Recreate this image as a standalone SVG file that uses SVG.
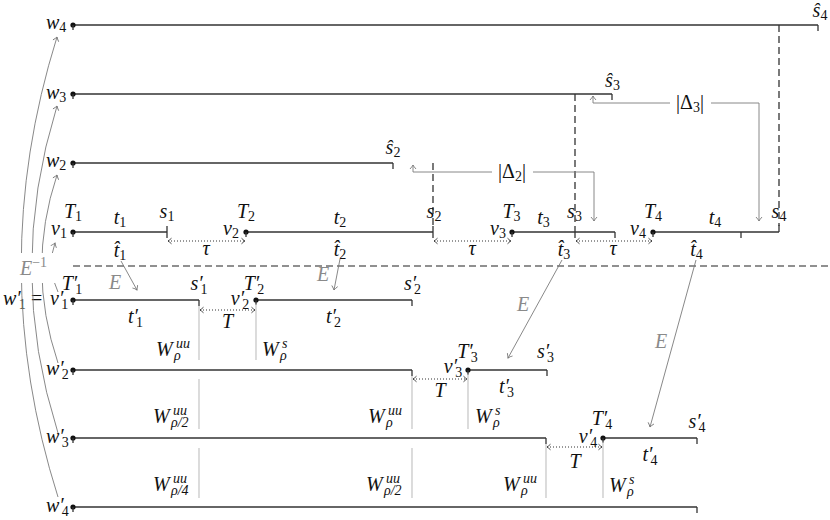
<svg xmlns="http://www.w3.org/2000/svg" width="830" height="520" viewBox="0 0 830 520">
<defs>
<style>
text{font-family:"Liberation Serif","DejaVu Serif",serif;font-style:italic;font-size:20px;fill:#111}
.n{font-style:normal}
.sb{font-size:14px;font-style:normal}
.si{font-size:14px;font-style:italic}
.g{fill:#8a8a8a}
.ln{stroke:#333;stroke-width:1.3;fill:none}
.ds{stroke:#222;stroke-width:1.2;stroke-dasharray:7 4;fill:none}
.ga{stroke:#7a7a7a;stroke-width:0.9;fill:none}
.wl{stroke:#c4c4c4;stroke-width:1.2;fill:none}
.dt{stroke:#333;stroke-width:1;stroke-dasharray:1 2;fill:none}
.pt{fill:#111}
</style>
<marker id="ag" viewBox="-5 -4 6 8" refX="0" refY="0" markerWidth="6" markerHeight="8" markerUnits="userSpaceOnUse" orient="auto-start-reverse">
<path d="M-4,-3 Q-1.5,-0.8 0,0 Q-1.5,0.8 -4,3" fill="none" stroke="#7a7a7a" stroke-width="0.9"/>
</marker>
<marker id="ad" viewBox="-5 -4 6 8" refX="0" refY="0" markerWidth="6" markerHeight="8" markerUnits="userSpaceOnUse" orient="auto-start-reverse">
<path d="M-3.5,-2.8 Q-1.3,-0.7 0,0 Q-1.3,0.7 -3.5,2.8" fill="none" stroke="#333" stroke-width="0.9"/>
</marker>
</defs>
<rect width="830" height="520" fill="#fff"/>

<g id="guides">
<line class="ds" x1="73" y1="266" x2="830" y2="266"/>
<line class="ds" x1="433" y1="163" x2="433" y2="226"/>
<line class="ds" x1="575" y1="94" x2="575" y2="232"/>
<line class="ds" x1="779" y1="25" x2="779" y2="226"/>
</g>

<g id="w4">
<line class="ln" x1="73" y1="25" x2="818" y2="25"/>
<line class="ln" x1="818" y1="25" x2="818" y2="31"/>
<circle class="pt" cx="73" cy="25" r="2.6"/><line class="ln" x1="73" y1="25" x2="73" y2="30"/>
<text x="46" y="29">w<tspan class="sb" dy="3">4</tspan></text>
<text x="820" y="17" text-anchor="middle">ŝ<tspan class="sb" dy="3">4</tspan></text>
</g>
<g id="w3">
<line class="ln" x1="73" y1="94" x2="612" y2="94"/>
<line class="ln" x1="612" y1="94" x2="612" y2="100"/>
<circle class="pt" cx="73" cy="94" r="2.6"/><line class="ln" x1="73" y1="94" x2="73" y2="99"/>
<text x="46" y="99">w<tspan class="sb" dy="3">3</tspan></text>
<text x="612.5" y="87" text-anchor="middle">ŝ<tspan class="sb" dy="3">3</tspan></text>
</g>
<g id="w2">
<line class="ln" x1="73" y1="163" x2="393" y2="163"/>
<line class="ln" x1="393" y1="163" x2="393" y2="169"/>
<circle class="pt" cx="73" cy="163" r="2.6"/><line class="ln" x1="73" y1="163" x2="73" y2="168"/>
<text x="46" y="167">w<tspan class="sb" dy="3">2</tspan></text>
<text x="393" y="154" text-anchor="middle">ŝ<tspan class="sb" dy="3">2</tspan></text>
</g>

<g id="v1">
<line class="ln" x1="73" y1="232" x2="167" y2="232"/>
<line class="ln" x1="167" y1="226" x2="167" y2="238"/>
<circle class="pt" cx="73" cy="232" r="2.6"/><line class="ln" x1="73" y1="232" x2="73" y2="237"/>
<text x="59" y="235" text-anchor="middle">v<tspan class="sb" dy="3">1</tspan></text>
<text x="73" y="218" text-anchor="middle">T<tspan class="sb" dy="3">1</tspan></text>
<text x="120" y="224" text-anchor="middle">t<tspan class="sb" dy="3">1</tspan></text>
<text x="167" y="218" text-anchor="middle">s<tspan class="sb" dy="3">1</tspan></text>
<text x="120" y="257" text-anchor="middle">t&#x302;<tspan class="sb" dy="3">1</tspan></text>
</g>
<g id="v2">
<line class="ln" x1="246" y1="232" x2="433" y2="232"/>
<line class="ln" x1="433" y1="226" x2="433" y2="238"/>
<circle class="pt" cx="246" cy="232" r="2.6"/><line class="ln" x1="246" y1="232" x2="246" y2="237"/>
<text x="231" y="235" text-anchor="middle">v<tspan class="sb" dy="3">2</tspan></text>
<text x="246" y="218" text-anchor="middle">T<tspan class="sb" dy="3">2</tspan></text>
<text x="340" y="224" text-anchor="middle">t<tspan class="sb" dy="3">2</tspan></text>
<text x="434" y="218" text-anchor="middle">s<tspan class="sb" dy="3">2</tspan></text>
<text x="340" y="256" text-anchor="middle">t&#x302;<tspan class="sb" dy="3">2</tspan></text>
</g>
<g id="v3">
<line class="ln" x1="512" y1="232" x2="615" y2="232"/>
<line class="ln" x1="575" y1="232" x2="575" y2="238"/>
<line class="ln" x1="615" y1="232" x2="615" y2="238"/>
<circle class="pt" cx="512" cy="232" r="2.6"/><line class="ln" x1="512" y1="232" x2="512" y2="237"/>
<text x="498" y="235" text-anchor="middle">v<tspan class="sb" dy="3">3</tspan></text>
<text x="511.5" y="218" text-anchor="middle">T<tspan class="sb" dy="3">3</tspan></text>
<text x="543.5" y="224" text-anchor="middle">t<tspan class="sb" dy="3">3</tspan></text>
<text x="574.5" y="218" text-anchor="middle">s<tspan class="sb" dy="3">3</tspan></text>
<text x="564" y="256" text-anchor="middle">t&#x302;<tspan class="sb" dy="3">3</tspan></text>
</g>
<g id="v4">
<line class="ln" x1="653" y1="232" x2="779" y2="232"/>
<line class="ln" x1="741" y1="232" x2="741" y2="238"/>
<line class="ln" x1="779" y1="225" x2="779" y2="232"/>
<circle class="pt" cx="653" cy="232" r="2.6"/><line class="ln" x1="653" y1="232" x2="653" y2="237"/>
<text x="638" y="235" text-anchor="middle">v<tspan class="sb" dy="3">4</tspan></text>
<text x="653" y="218" text-anchor="middle">T<tspan class="sb" dy="3">4</tspan></text>
<text x="715" y="224" text-anchor="middle">t<tspan class="sb" dy="3">4</tspan></text>
<text x="779" y="218" text-anchor="middle">s<tspan class="sb" dy="3">4</tspan></text>
<text x="696.5" y="256" text-anchor="middle">t&#x302;<tspan class="sb" dy="3">4</tspan></text>
</g>

<g id="v1p">
<line class="ln" x1="73" y1="300" x2="199" y2="300"/>
<line class="ln" x1="199" y1="300" x2="199" y2="306"/>
<circle class="pt" cx="73" cy="300" r="2.6"/><line class="ln" x1="73" y1="300" x2="73" y2="305"/>
<text x="3" y="305">w′<tspan class="sb" dx="-2" dy="4">1</tspan><tspan class="n" x="31" y="305">=</tspan><tspan x="50" y="305">v′</tspan><tspan class="sb" dx="-2" dy="4">1</tspan></text>
<text x="72" y="290" text-anchor="middle">T′<tspan class="sb" dx="-2" dy="4">1</tspan></text>
<text x="135.5" y="323" text-anchor="middle">t′<tspan class="sb" dx="-2" dy="4">1</tspan></text>
<text x="199" y="290" text-anchor="middle">s′<tspan class="sb" dx="-2" dy="4">1</tspan></text>
</g>
<g id="v2p">
<line class="ln" x1="256" y1="300" x2="412" y2="300"/>
<line class="ln" x1="412" y1="300" x2="412" y2="306"/>
<circle class="pt" cx="256" cy="300" r="2.6"/><line class="ln" x1="256" y1="300" x2="256" y2="305"/>
<text x="240" y="305" text-anchor="middle">v′<tspan class="sb" dx="-2" dy="4">2</tspan></text>
<text x="254" y="290" text-anchor="middle">T′<tspan class="sb" dx="-2" dy="4">2</tspan></text>
<text x="333.5" y="323" text-anchor="middle">t′<tspan class="sb" dx="-2" dy="4">2</tspan></text>
<text x="412.5" y="290" text-anchor="middle">s′<tspan class="sb" dx="-2" dy="4">2</tspan></text>
</g>
<g id="w2p">
<line class="ln" x1="73" y1="370" x2="412" y2="370"/>
<line class="ln" x1="412" y1="370" x2="412" y2="376"/>
<circle class="pt" cx="73" cy="370" r="2.6"/><line class="ln" x1="73" y1="370" x2="73" y2="375"/>
<text x="46" y="375">w′<tspan class="sb" dx="-2" dy="4">2</tspan></text>
</g>
<g id="v3p">
<line class="ln" x1="468" y1="370" x2="547" y2="370"/>
<line class="ln" x1="547" y1="370" x2="547" y2="376"/>
<circle class="pt" cx="468" cy="370" r="2.6"/><line class="ln" x1="468" y1="370" x2="468" y2="375"/>
<text x="453" y="373" text-anchor="middle">v′<tspan class="sb" dx="-2" dy="4">3</tspan></text>
<text x="467.5" y="358" text-anchor="middle">T′<tspan class="sb" dx="-2" dy="4">3</tspan></text>
<text x="506.5" y="393" text-anchor="middle">t′<tspan class="sb" dx="-2" dy="4">3</tspan></text>
<text x="545.5" y="358" text-anchor="middle">s′<tspan class="sb" dx="-2" dy="4">3</tspan></text>
</g>
<g id="w3p">
<line class="ln" x1="73" y1="438" x2="546" y2="438"/>
<line class="ln" x1="546" y1="438" x2="546" y2="444"/>
<circle class="pt" cx="73" cy="438" r="2.6"/><line class="ln" x1="73" y1="438" x2="73" y2="443"/>
<text x="46" y="443">w′<tspan class="sb" dx="-2" dy="4">3</tspan></text>
</g>
<g id="v4p">
<line class="ln" x1="603" y1="438" x2="697" y2="438"/>
<line class="ln" x1="697" y1="438" x2="697" y2="444"/>
<circle class="pt" cx="603" cy="438" r="2.6"/><line class="ln" x1="603" y1="438" x2="603" y2="443"/>
<text x="588" y="443" text-anchor="middle">v′<tspan class="sb" dx="-2" dy="4">4</tspan></text>
<text x="602" y="425" text-anchor="middle">T′<tspan class="sb" dx="-2" dy="4">4</tspan></text>
<text x="650" y="461" text-anchor="middle">t′<tspan class="sb" dx="-2" dy="4">4</tspan></text>
<text x="697" y="428" text-anchor="middle">s′<tspan class="sb" dx="-2" dy="4">4</tspan></text>
</g>
<g id="w4p">
<line class="ln" x1="73" y1="507" x2="697" y2="507"/>
<line class="ln" x1="697" y1="507" x2="697" y2="513"/>
<circle class="pt" cx="73" cy="507" r="2.6"/><line class="ln" x1="73" y1="507" x2="73" y2="512"/>
<text x="46" y="512">w′<tspan class="sb" dx="-2" dy="4">4</tspan></text>
</g>

<g id="manifolds">
<line class="wl" x1="199" y1="306" x2="199" y2="360"/>
<line class="wl" x1="256" y1="304" x2="256" y2="360"/>
<line class="wl" x1="199" y1="379" x2="199" y2="429"/>
<line class="wl" x1="412" y1="376" x2="412" y2="429"/>
<line class="wl" x1="468" y1="374" x2="468" y2="429"/>
<line class="wl" x1="199" y1="448" x2="199" y2="498"/>
<line class="wl" x1="412" y1="448" x2="412" y2="498"/>
<line class="wl" x1="546" y1="444" x2="546" y2="498"/>
<line class="wl" x1="603" y1="442" x2="603" y2="498"/>
<text x="156" y="356">W<tspan class="si" x="176" y="348">uu</tspan><tspan class="si" x="174" y="360">ρ</tspan></text>
<text x="262" y="356">W<tspan class="si" x="282" y="348">s</tspan><tspan class="si" x="280" y="360">ρ</tspan></text>
<text x="153" y="423">W<tspan class="si" x="173" y="415">uu</tspan><tspan class="si" x="171" y="427">ρ/2</tspan></text>
<text x="368" y="423">W<tspan class="si" x="388" y="415">uu</tspan><tspan class="si" x="386" y="427">ρ</tspan></text>
<text x="475" y="423">W<tspan class="si" x="495" y="415">s</tspan><tspan class="si" x="493" y="427">ρ</tspan></text>
<text x="153" y="491">W<tspan class="si" x="173" y="483">uu</tspan><tspan class="si" x="171" y="495">ρ/4</tspan></text>
<text x="366" y="491">W<tspan class="si" x="386" y="483">uu</tspan><tspan class="si" x="384" y="495">ρ/2</tspan></text>
<text x="503" y="491">W<tspan class="si" x="523" y="483">uu</tspan><tspan class="si" x="521" y="495">ρ</tspan></text>
<text x="609" y="492">W<tspan class="si" x="629" y="484">s</tspan><tspan class="si" x="627" y="496">ρ</tspan></text>
</g>

<g id="connectors">
<path class="dt" d="M168,241 H245" marker-start="url(#ad)" marker-end="url(#ad)"/>
<path class="dt" d="M434,241 H511" marker-start="url(#ad)" marker-end="url(#ad)"/>
<path class="dt" d="M576,241 H652" marker-start="url(#ad)" marker-end="url(#ad)"/>
<path class="dt" d="M200,310 H255" marker-start="url(#ad)" marker-end="url(#ad)"/>
<path class="dt" d="M413,379 H467" marker-start="url(#ad)" marker-end="url(#ad)"/>
<path class="dt" d="M547,447 H602" marker-start="url(#ad)" marker-end="url(#ad)"/>
<text x="206" y="255" text-anchor="middle">τ</text>
<text x="472" y="255" text-anchor="middle">τ</text>
<text x="613" y="255" text-anchor="middle">τ</text>
<text x="227.5" y="328" text-anchor="middle">T</text>
<text x="440" y="397" text-anchor="middle">T</text>
<text x="575" y="468" text-anchor="middle">T</text>

<path class="ga" d="M121,261 L137,290" marker-end="url(#ag)"/>
<path class="ga" d="M340,259 L334,290" marker-end="url(#ag)"/>
<path class="ga" d="M562,260 L508,358" marker-end="url(#ag)"/>
<path class="ga" d="M696,260 L650,427" marker-end="url(#ag)"/>
<text class="g" x="115" y="289" text-anchor="middle">E</text>
<text class="g" x="323" y="281" text-anchor="middle">E</text>
<text class="g" x="523" y="311" text-anchor="middle">E</text>
<text class="g" x="661" y="348" text-anchor="middle">E</text>

<path class="ga" d="M413,165 V172 H594 V221" marker-start="url(#ag)" marker-end="url(#ag)"/>
<rect x="492" y="161" width="41" height="23" fill="#fff"/>
<text class="n" x="512" y="178" text-anchor="middle">|Δ<tspan class="sb" dy="3">2</tspan><tspan dy="-3">|</tspan></text>
<path class="ga" d="M593,96 V103 H759 V221" marker-start="url(#ag)" marker-end="url(#ag)"/>
<rect x="670" y="92" width="41" height="23" fill="#fff"/>
<text class="n" x="690" y="109" text-anchor="middle">|Δ<tspan class="sb" dy="3">3</tspan><tspan dy="-3">|</tspan></text>

<path class="ga" d="M58,497 Q-15,267 57,37" marker-end="url(#ag)"/>
<path class="ga" d="M58,433 Q6,270 57,106" marker-end="url(#ag)"/>
<path class="ga" d="M58,363 Q26,268 57,175" marker-end="url(#ag)"/>
<path class="ga" d="M58,292 Q46,267 55,243" marker-end="url(#ag)"/>
<rect x="18" y="253" width="37" height="30" fill="#fff"/>
<text class="g" x="20" y="275">E<tspan class="sb" dy="-8">−1</tspan></text>
</g>
</svg>
